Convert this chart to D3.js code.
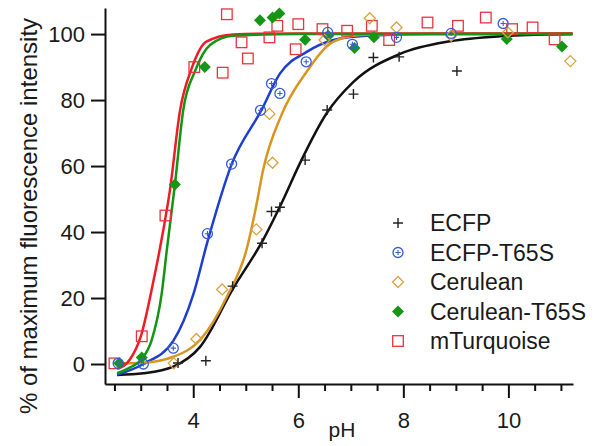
<!DOCTYPE html>
<html>
<head>
<meta charset="utf-8">
<script src="https://cdn.jsdelivr.net/npm/d3@7"></script>
<style>
  body { margin: 0; background: #fff; }
  text { font-family: "Liberation Sans", Arial, sans-serif; }
</style>
</head>
<body>
<svg width="602" height="446"></svg>
<script>
// measured points (pH, % of max fluorescence)
var ecfpPH = [3.71, 4.24, 4.75, 5.31, 5.49, 5.65, 6.13, 6.55, 7.05, 7.43, 7.92, 9.02];
var ecfpVal = [0.3, 1, 23.6, 36.6, 46.2, 47.5, 61.8, 77, 81.8, 92.9, 93.1, 88.8];

var t65sPH = [2.57, 3.05, 3.62, 4.27, 4.73, 5.28, 5.49, 5.65, 6.15, 6.56, 7.03, 7.87, 8.91, 9.9];
var t65sVal = [0.2, 0, 4.8, 39.5, 60.6, 76.9, 85, 82, 91.6, 100.5, 96.9, 99, 100.2, 103.2];

var cerPH = [3.63, 4.06, 4.55, 5.2, 5.45, 5.51, 6.5, 7.36, 7.87, 8.91, 9.99, 11.18];
var cerVal = [0.2, 7.6, 22.6, 40.8, 75.8, 61, 98.2, 104.8, 102, 99.5, 100.5, 91.8];

var cerT65sPH = [2.59, 3.02, 3.65, 4.22, 5.27, 5.51, 5.64, 6.13, 6.57, 7.07, 7.44, 9.97, 11.02];
var cerT65sVal = [0.2, 2, 54.4, 90, 104.2, 105, 106.2, 98.3, 99.5, 95.8, 99, 98.5, 96.2];

var mTurqPH = [2.5, 3.02, 3.47, 4.02, 4.56, 4.64, 4.92, 5.04, 5.45, 5.6, 5.95, 6.0, 6.46, 6.93, 7.4, 7.73, 8.46, 9.04, 9.57, 10.07, 10.46, 10.88];
var mTurqVal = [0.2, 8.4, 45, 90, 88.3, 106, 97.5, 92.6, 99, 102.5, 95.4, 103, 101.5, 101, 102.5, 98.2, 103.5, 102.5, 105, 101.5, 102, 98.4];

// fitted curves
var ecfpFitPH = [2.55, 3.05, 3.62, 4.13, 4.76, 5.33, 5.71, 6.03, 6.54, 7.05, 7.94, 8.89, 9.84, 11.22];
var ecfpFitVal = [-3.3, -2.8, -0.8, 5.2, 22.9, 37.6, 49.7, 60.8, 76, 85.5, 94, 97.8, 99.3, 100];

var t65sFitPH = [2.55, 3.05, 3.62, 4.0, 4.27, 4.73, 5.3, 5.65, 6.16, 6.67, 7.3, 8.5, 11.22];
var t65sFitVal = [-3.3, 0, 7, 21, 37, 60.5, 77, 88, 94.6, 98.2, 99.5, 100, 100];

var cerFitPH = [2.55, 3.05, 3.62, 4.13, 4.64, 5.02, 5.2, 5.33, 5.68, 6.16, 6.67, 7.18, 8.0, 11.22];
var cerFitVal = [0.2, 0.4, 2.2, 7.3, 20.4, 35, 48, 58.8, 75.5, 88.6, 97.7, 99.7, 100, 100.2];

var cerT65sFitPH = [2.55, 2.8, 3.02, 3.21, 3.4, 3.5, 3.65, 3.81, 4.03, 4.32, 4.76, 6.0, 11.22];
var cerT65sFitVal = [-2.8, -1, 1.5, 7.3, 21.4, 35, 54.2, 77, 88.6, 96.7, 99.5, 100, 100];

var mTurqFitPH = [2.55, 2.8, 3.0, 3.24, 3.43, 3.55, 3.75, 3.97, 4.25, 4.76, 6.0, 11.22];
var mTurqFitVal = [-1.5, 1.5, 8.3, 25, 40.6, 52, 77, 89.6, 97.7, 99.9, 100.2, 100.2];

var yTicks = [0, 20, 40, 60, 80, 100];
var xMajor = [4, 6, 8, 10];
var xMinor = [2.5, 3, 3.5, 4.5, 5, 5.5, 6.5, 7, 7.5, 8.5, 9, 9.5, 10.5, 11];

var names = ["ECFP", "ECFP-T65S", "Cerulean", "Cerulean-T65S", "mTurquoise"];

var svg = d3.select("svg");
var font = '"Liberation Sans", Arial, sans-serif';

var x = d3.scaleLinear().domain([2.32, 11.23]).range([105, 573]),
    y = d3.scaleLinear().domain([-6.06, 107.9]).range([384, 8]);

// marker shapes
function plusPath(cx, cy) {
    return "M" + (cx - 5) + "," + cy + "h10M" + cx + "," + (cy - 5) + "v10";
}
function diamondPath(cx, cy, r) {
    return "M" + cx + "," + (cy - r) + "l" + r + "," + r + "l" + (-r) + "," + r + "l" + (-r) + "," + (-r) + "z";
}

var series = [
    {name: names[0], ph: ecfpPH, val: ecfpVal, fph: ecfpFitPH, fval: ecfpFitVal, line: "#111111", mark: "#222222", type: "plus"},
    {name: names[1], ph: t65sPH, val: t65sVal, fph: t65sFitPH, fval: t65sFitVal, line: "#1d3fd0", mark: "#3a5ad8", type: "circle"},
    {name: names[2], ph: cerPH, val: cerVal, fph: cerFitPH, fval: cerFitVal, line: "#d6961f", mark: "#d9a343", type: "diamond"},
    {name: names[3], ph: cerT65sPH, val: cerT65sVal, fph: cerT65sFitPH, fval: cerT65sFitVal, line: "#139413", mark: "#169616", type: "fdiamond"},
    {name: names[4], ph: mTurqPH, val: mTurqVal, fph: mTurqFitPH, fval: mTurqFitVal, line: "#ee1c24", mark: "#e8343c", type: "square"}
];

function drawMarker(g, type, color, cx, cy) {
    if (type == "plus") {
        g.append("path").attr("d", plusPath(cx, cy))
            .attr("stroke", color).attr("stroke-width", 1.4).attr("fill", "none");
    } else if (type == "circle") {
        g.append("circle").attr("cx", cx).attr("cy", cy).attr("r", 5)
            .attr("stroke", color).attr("stroke-width", 1.3).attr("fill", "none");
        g.append("path")
            .attr("d", "M" + (cx - 2.6) + "," + cy + "h5.2M" + cx + "," + (cy - 2.6) + "v5.2")
            .attr("stroke", color).attr("stroke-width", 1.1);
    } else if (type == "diamond") {
        g.append("path").attr("d", diamondPath(cx, cy, 5.5))
            .attr("stroke", color).attr("stroke-width", 1.3).attr("fill", "none");
    } else if (type == "fdiamond") {
        g.append("path").attr("d", diamondPath(cx, cy, 6))
            .attr("fill", color);
    } else {
        g.append("rect").attr("x", cx - 5.3).attr("y", cy - 5.3)
            .attr("width", 10.6).attr("height", 10.6)
            .attr("stroke", color).attr("stroke-width", 1.3).attr("fill", "none");
    }
}

// fit lines
var line = d3.line()
    .x(d => x(d[0]))
    .y(d => y(d[1]))
    .curve(d3.curveMonotoneX);

[0, 1, 2, 4, 3].forEach(function(i) {
    var s = series[i];
    svg.append("path")
        .datum(s.fph.map((p, k) => [p, s.fval[k]]))
        .attr("d", line)
        .attr("fill", "none")
        .attr("stroke", s.line)
        .attr("stroke-width", 2.5);
});

// data points
var pts = svg.append("g");
[4, 3, 2, 0, 1].forEach(function(i) {
    var s = series[i];
    s.ph.forEach(function(p, k) {
        drawMarker(pts, s.type, s.mark, x(p), y(s.val[k]));
    });
});

// axes
var yAxis = svg.append("g")
    .attr("transform", "translate(105,0)")
    .call(d3.axisLeft(y).tickValues(yTicks).tickSize(14).tickPadding(6).tickSizeOuter(0));

var xAxis = svg.append("g")
    .attr("transform", "translate(0,384)")
    .call(d3.axisBottom(x).tickValues(xMajor).tickSize(14).tickPadding(14)
        .tickSizeOuter(0).tickFormat(d3.format("d")));

var xMinorAxis = svg.append("g")
    .attr("transform", "translate(0,384)")
    .call(d3.axisBottom(x).tickValues(xMinor).tickSize(7).tickFormat(""));
xMinorAxis.select(".domain").remove();

[yAxis, xAxis, xMinorAxis].forEach(function(a) {
    a.selectAll("path, line").attr("stroke", "#111").attr("stroke-width", 2);
    a.selectAll("text").attr("font-family", font).attr("font-size", 22).attr("fill", "#1a1a1a");
});

// axis titles
svg.append("text")
    .attr("transform", "rotate(-90)")
    .attr("x", -216)
    .attr("y", 37)
    .attr("text-anchor", "middle")
    .attr("font-size", 24)
    .attr("fill", "#1a1a1a")
    .text("% of maximum fluorescence intensity");

svg.append("text")
    .attr("x", 342)
    .attr("y", 437)
    .attr("text-anchor", "middle")
    .attr("font-size", 21)
    .attr("fill", "#1a1a1a")
    .text("pH");

// legend
var legend = svg.append("g");
series.forEach(function(s, i) {
    var ly = 223 + i * 29.5;
    drawMarker(legend, s.type, s.mark, 398, ly);
    legend.append("text")
        .attr("x", 430)
        .attr("y", ly)
        .attr("dy", "0.35em")
        .attr("font-size", 23)
        .attr("fill", "#1a1a1a")
        .text(s.name);
});
</script>
</body>
</html>
